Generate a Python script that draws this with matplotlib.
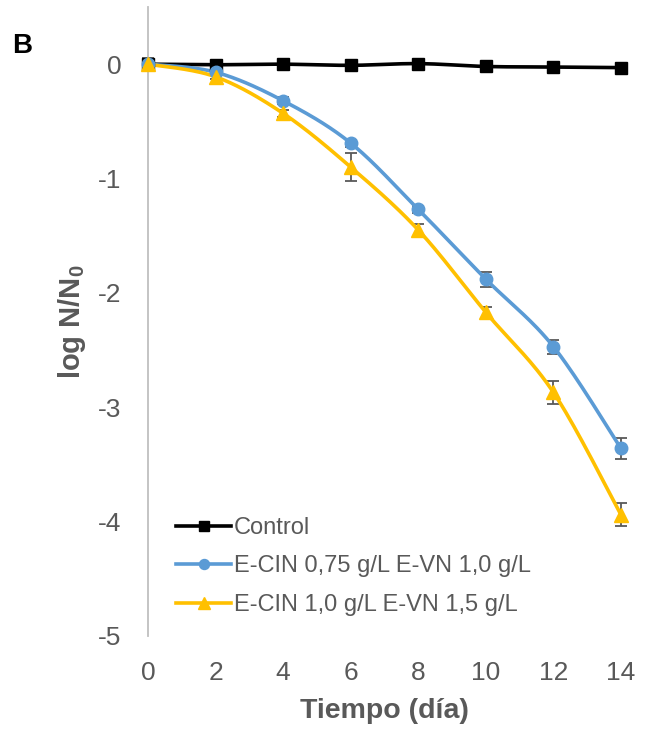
import numpy as np
import matplotlib
matplotlib.use("Agg")
import matplotlib.pyplot as plt
from matplotlib.lines import Line2D

plt.rcParams['font.family'] = ['Liberation Sans', 'DejaVu Sans']

days = [0, 2, 4, 6, 8, 10, 12, 14]
control = [0.0, -0.005, 0.0, -0.01, 0.005, -0.02, -0.025, -0.03]
control_err = [0.05, 0.0, 0.0, 0.0, 0.0, 0.0, 0.0, 0.0]
ecin075 = [0.0, -0.07, -0.32, -0.69, -1.27, -1.88, -2.47, -3.36]
ecin075_err = [0.03, 0.02, 0.03, 0.03, 0.03, 0.065, 0.06, 0.09]
ecin10 = [0.0, -0.11, -0.43, -0.90, -1.45, -2.17, -2.87, -3.94]
ecin10_err = [0.03, 0.02, 0.03, 0.12, 0.05, 0.05, 0.1, 0.1]

labels = ["Control", "E-CIN 0,75 g/L E-VN 1,0 g/L", "E-CIN 1,0 g/L E-VN 1,5 g/L"]
colors = ["#000000", "#5b9bd5", "#ffc000"]
markers = ["s", "o", "^"]
msizes = [8.5, 9, 10]
series = [control, ecin075, ecin10]
errors = [control_err, ecin075_err, ecin10_err]


def smooth(x, y, n=30):
    x = np.asarray(x, float)
    y = np.asarray(y, float)
    P = np.column_stack([x, y])
    out = [P[0]]
    for i in range(len(P) - 1):
        p0 = P[i - 1] if i > 0 else P[i]
        p1 = P[i]
        p2 = P[i + 1]
        p3 = P[i + 2] if i + 2 < len(P) else P[i + 1]
        c1 = p1 + (p2 - p0) / 6.0
        c2 = p2 - (p3 - p1) / 6.0
        t = np.linspace(0, 1, n)[1:, None]
        seg = ((1 - t) ** 3) * p1 + 3 * ((1 - t) ** 2) * t * c1 + 3 * (1 - t) * t ** 2 * c2 + t ** 3 * p2
        out.extend(seg)
    out = np.array(out)
    return out[:, 0], out[:, 1]


fig = plt.figure(figsize=(6.56, 7.32), dpi=100)
ax = fig.add_axes([148 / 656, 1 - 636 / 732, (621 - 148) / 656, (636 - 7) / 732])

handles = []
for yv, err, c, m, ms, lab in zip(series, errors, colors, markers, msizes, labels):
    ax.errorbar(days, yv, yerr=err, fmt="none", ecolor="#595959", elinewidth=1.3,
                capsize=4.5, capthick=1.3, zorder=2, clip_on=False)
    sx, sy = smooth(days, yv)
    ax.plot(sx, sy, color=c, lw=2.6, zorder=3, clip_on=False, solid_capstyle="round")
    ax.plot(days, yv, linestyle="none", marker=m, color=c, markersize=ms,
            zorder=4, clip_on=False)
    handles.append(Line2D([0], [0], color=c, lw=2.6, marker=m, markersize=ms * 0.8))

ax.set_xlim(0, 14)
ax.set_ylim(-5, 0.5)
ax.set_xticks(days)
ax.set_yticks([0, -1, -2, -3, -4, -5])
ax.set_yticklabels(["0", "-1", "-2", "-3", "-4", "-5"])
for s in ["top", "right", "bottom"]:
    ax.spines[s].set_visible(False)
ax.spines["left"].set_color("#bfbfbf")
ax.spines["left"].set_linewidth(1.3)
ax.tick_params(axis="both", length=0, labelsize=19, colors="#595959")
ax.tick_params(axis="y", pad=19)
ax.tick_params(axis="x", pad=18)

ax.set_xlabel("Tiempo (día)", fontsize=20.5, fontweight="bold", color="#595959", labelpad=9)
ax.set_ylabel("log N/N$_\\mathregular{0}$", fontsize=21, fontweight="bold", color="#595959", labelpad=7)

leg = ax.legend(handles, labels, loc="lower left", bbox_to_anchor=(0.04, 0.017), frameon=False,
                fontsize=17, labelcolor="#595959", handlelength=2.3, handletextpad=0.15,
                labelspacing=0.7, borderaxespad=0)

fig.text(12 / 656, 1 - 46 / 732, "B", fontsize=20, fontweight="bold", color="#000000",
         va="center", ha="left")

fig.savefig("out.png", dpi=100)
